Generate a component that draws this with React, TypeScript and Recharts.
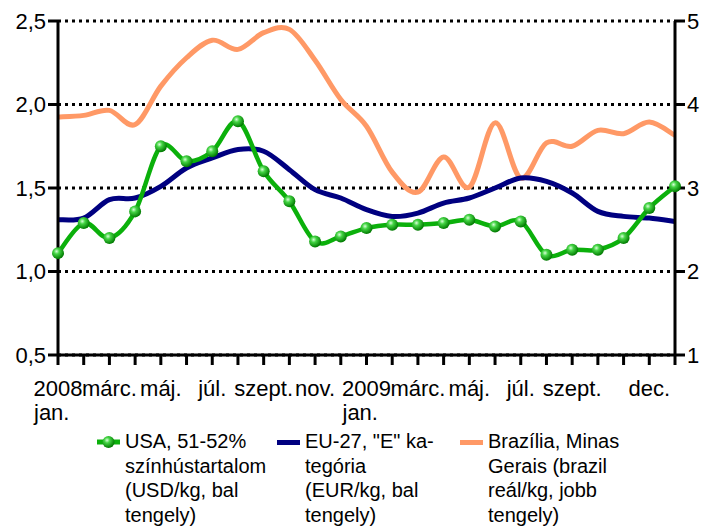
import React from 'react';
import { LineChart, Line, XAxis, YAxis, CartesianGrid } from 'recharts';

// 2008 jan. -> 2010 jan., monthly
const months = [
  '2008-01', '2008-02', '2008-03', '2008-04', '2008-05', '2008-06', '2008-07', '2008-08', '2008-09', '2008-10', '2008-11', '2008-12',
  '2009-01', '2009-02', '2009-03', '2009-04', '2009-05', '2009-06', '2009-07', '2009-08', '2009-09', '2009-10', '2009-11', '2009-12',
  '2010-01',
];
const tickLabels = [
  ['2008', 'jan.'], [''], ['márc.'], [''], ['máj.'], [''], ['júl.'], [''], ['szept.'], [''], ['nov.'], [''],
  ['2009', 'jan.'], [''], ['márc.'], [''], ['máj.'], [''], ['júl.'], [''], ['szept.'], [''], [''], ['dec.'],
  [''],
];
const usa = [1.11, 1.29, 1.2, 1.36, 1.75, 1.66, 1.72, 1.9, 1.6, 1.42, 1.18, 1.21, 1.26, 1.28, 1.28, 1.29, 1.31, 1.27, 1.3, 1.1, 1.13, 1.13, 1.2, 1.38, 1.51];
const eu = [1.31, 1.32, 1.43, 1.44, 1.51, 1.62, 1.68, 1.73, 1.72, 1.61, 1.49, 1.44, 1.37, 1.33, 1.35, 1.41, 1.44, 1.5, 1.56, 1.54, 1.47, 1.36, 1.33, 1.32, 1.3];
const brazil = [3.85, 3.87, 3.93, 3.76, 4.22, 4.56, 4.77, 4.66, 4.86, 4.9, 4.53, 4.06, 3.74, 3.19, 2.95, 3.37, 3.01, 3.78, 3.12, 3.54, 3.5, 3.69, 3.65, 3.79, 3.63];
const leftTicks = [0.5, 1, 1.5, 2, 2.5];
const rightTicks = [1, 2, 3, 4, 5];

const legendUsa = ['USA, 51-52%', 'színhústartalom', '(USD/kg, bal', 'tengely)'];
const legendEu = ['EU-27, "E" ka-', 'tegória', '(EUR/kg, bal', 'tengely)'];
const legendBrazil = ['Brazília, Minas', 'Gerais (brazil', 'reál/kg, jobb', 'tengely)'];

const data = months.map((m, i) => ({ month: m, usa: usa[i], eu: eu[i], brazil: brazil[i] }));

const FONT = "'Liberation Sans', Arial, sans-serif";
const GREEN = '#0bb00b';
const NAVY = '#000080';
const SALMON = '#ff9966';

// Excel-like smoothing (Catmull-Rom through the points)
function excelSmooth(context: any) {
  let pts: number[][] = [];
  return {
    areaStart() {},
    areaEnd() {},
    lineStart() {
      pts = [];
    },
    point(x: number, y: number) {
      pts.push([+x, +y]);
    },
    lineEnd() {
      const n = pts.length;
      if (!n) return;
      context.moveTo(pts[0][0], pts[0][1]);
      for (let i = 0; i < n - 1; i++) {
        const p0 = pts[i - 1] || pts[i];
        const p1 = pts[i];
        const p2 = pts[i + 1];
        const p3 = pts[i + 2] || p2;
        context.bezierCurveTo(
          p1[0] + (p2[0] - p0[0]) / 6,
          p1[1] + (p2[1] - p0[1]) / 6,
          p2[0] - (p3[0] - p1[0]) / 6,
          p2[1] - (p3[1] - p1[1]) / 6,
          p2[0],
          p2[1]
        );
      }
    },
  };
}

const MonthTick = (props: any) => {
  const { x, y, payload } = props;
  const [first, second] = tickLabels[payload.index] || [''];
  return (
    <g transform={`translate(${x},${y})`} fontFamily={FONT} fontSize={22} fill="#000">
      <text textAnchor="middle" y={29}>{first}</text>
      {second && <text textAnchor="start" x={-24} y={53}>{second}</text>}
    </g>
  );
};

const Ball = (props: any) => {
  const { cx, cy, index } = props;
  return <circle key={index} cx={cx} cy={cy} r={6} fill="url(#ball)" />;
};

const LegendItem = ({ left, icon, lines }: { left: number; icon: React.ReactNode; lines: string[] }) => (
  <div style={{ position: 'absolute', left, top: 429, display: 'flex' }}>
    <div style={{ width: 28, height: 24, position: 'relative' }}>{icon}</div>
    <div style={{ fontFamily: FONT, fontSize: 20, lineHeight: '24.5px', color: '#000', whiteSpace: 'nowrap' }}>
      {lines.map((l, i) => (
        <div key={i}>{l}</div>
      ))}
    </div>
  </div>
);

export default function App() {
  return (
    <div style={{ position: 'absolute', left: 0, top: 0, width: 706, height: 528, background: '#fff' }}>
      <LineChart width={706} height={430} data={data} margin={{ top: 21, right: 0, left: 0, bottom: 0 }}>
        <defs>
          <radialGradient id="ball" cx="38%" cy="35%" r="65%">
            <stop offset="0%" stopColor="#d8ffd8" />
            <stop offset="35%" stopColor="#44d444" />
            <stop offset="100%" stopColor="#007a00" />
          </radialGradient>
        </defs>
        <CartesianGrid yAxisId="left" vertical={false} stroke="#000" strokeWidth={3} strokeDasharray="3 4" />
        <XAxis
          dataKey="month"
          interval={0}
          tick={<MonthTick />}
          tickSize={10}
          height={75}
          axisLine={{ stroke: '#000', strokeWidth: 3 }}
          tickLine={{ stroke: '#000', strokeWidth: 3 }}
        />
        <YAxis
          yAxisId="left"
          domain={[0.5, 2.5]}
          ticks={leftTicks}
          width={58}
          tickSize={10}
          tickFormatter={(v: number) => v.toFixed(1).replace('.', ',')}
          tick={{ fontFamily: FONT, fontSize: 22, fill: '#000' }}
          axisLine={{ stroke: '#000', strokeWidth: 3 }}
          tickLine={{ stroke: '#000', strokeWidth: 3 }}
        />
        <YAxis
          yAxisId="right"
          orientation="right"
          domain={[1, 5]}
          ticks={rightTicks}
          width={31}
          tickSize={10}
          tick={{ fontFamily: FONT, fontSize: 22, fill: '#000' }}
          axisLine={{ stroke: '#000', strokeWidth: 3 }}
          tickLine={{ stroke: '#000', strokeWidth: 3 }}
        />
        <Line yAxisId="right" dataKey="brazil" type={excelSmooth as any} stroke={SALMON} strokeWidth={5} dot={false} isAnimationActive={false} />
        <Line yAxisId="left" dataKey="eu" type={excelSmooth as any} stroke={NAVY} strokeWidth={5} dot={false} isAnimationActive={false} />
        <Line yAxisId="left" dataKey="usa" type={excelSmooth as any} stroke={GREEN} strokeWidth={4.5} dot={<Ball />} activeDot={false} isAnimationActive={false} />
      </LineChart>
      <LegendItem
        left={97}
        lines={legendUsa}
        icon={
          <svg width={24} height={24}>
            <line x1={0} y1={13} x2={23} y2={13} stroke={GREEN} strokeWidth={5} />
            <circle cx={11.5} cy={13} r={6} fill="url(#ball)" />
          </svg>
        }
      />
      <LegendItem
        left={277}
        lines={legendEu}
        icon={<div style={{ position: 'absolute', left: 0, top: 11, width: 23, height: 5, background: NAVY }} />}
      />
      <LegendItem
        left={460}
        lines={legendBrazil}
        icon={<div style={{ position: 'absolute', left: 0, top: 11, width: 23, height: 5, background: SALMON }} />}
      />
    </div>
  );
}
